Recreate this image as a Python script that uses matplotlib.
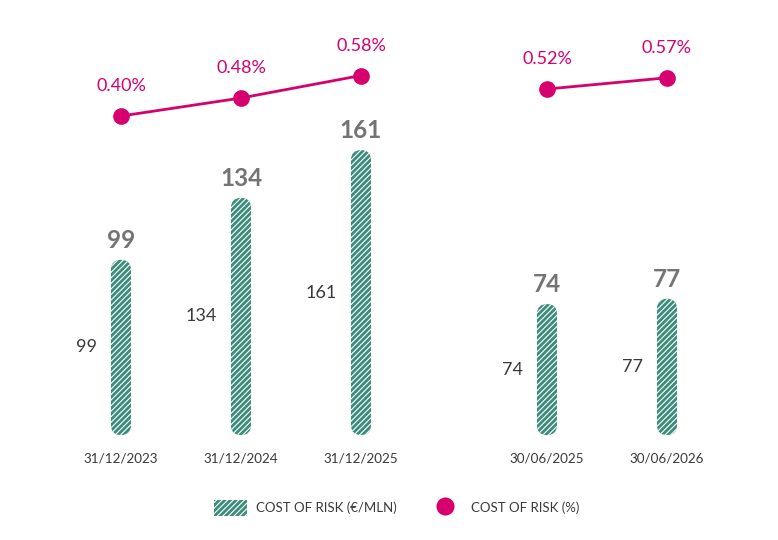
import matplotlib
matplotlib.use("Agg")
import matplotlib.pyplot as plt
from matplotlib.patches import FancyBboxPatch, Patch
from matplotlib.lines import Line2D

plt.rcParams['font.family'] = ['Lato', 'DejaVu Sans']
plt.rcParams['hatch.linewidth'] = 0.8

# data
dates_a = ["31/12/2023", "31/12/2024", "31/12/2025"]
dates_b = ["30/06/2025", "30/06/2026"]
cost_mln_a = [99, 134, 161]
cost_mln_b = [74, 77]
cost_pct_a = [0.40, 0.48, 0.58]
cost_pct_b = [0.52, 0.57]

TEAL = "#3c8c7b"
PINK = "#d6006e"
GREY = "#747474"
DARK = "#3a3a3a"

# positions: two groups with a wider gap between them
pos_a = [0, 1, 2]
pos_b = [3.55, 4.55]
positions = pos_a + pos_b
labels = dates_a + dates_b
values = cost_mln_a + cost_mln_b

fig = plt.figure(figsize=(7.78, 5.40), dpi=100)
ax = fig.add_axes([0, 0, 1, 1])
ax.set_xlim(-1.008, 5.475)
ax.set_ylim(-59.3, 245.8)
ax.axis("off")

bar_w = 0.167
px_x = 120.0   # pixels per x unit
px_y = 1.77    # pixels per y unit
r = 10 / px_x
aspect = (10 / px_y) / r

for x, v, lab in zip(positions, values, labels):
    p = FancyBboxPatch((x - bar_w / 2, 0), bar_w, v,
                       boxstyle=f"round,pad=0,rounding_size={r}",
                       mutation_aspect=aspect,
                       facecolor=TEAL, edgecolor="white", linewidth=0,
                       hatch="//////")
    ax.add_patch(p)
    ax.text(x, v + 11, str(v), ha="center", va="center",
            fontsize=17.5, fontweight="bold", color=GREY)
    ax.text(x - 0.2, v / 2, str(v), ha="right", va="center",
            fontsize=13, color=DARK)
    ax.text(x, -13, lab, ha="center", va="center", fontsize=9.7, color=DARK)

# percentage line on its own scale
ax2 = ax.twinx()
ax2.set_position([0, 0, 1, 1])
ax2.set_ylim(-1.484, 0.9156)
ax2.axis("off")

for xs, ys in [(pos_a, cost_pct_a), (pos_b, cost_pct_b)]:
    ax2.plot(xs, ys, color=PINK, linewidth=2, marker="o", markersize=11)
    for x, y in zip(xs, ys):
        ax2.text(x, y + 0.133, f"{y:.2f}%", ha="center", va="center",
                 fontsize=13, color=PINK)

handles = [
    Patch(facecolor=TEAL, edgecolor="white", linewidth=0, hatch="//////",
          label="COST OF RISK (€/MLN)"),
    Line2D([], [], color=PINK, marker="o", linestyle="none", markersize=12,
           label="COST OF RISK (%)"),
]
leg = fig.legend(handles=handles, loc="center", bbox_to_anchor=(0.51, 0.06),
                 ncol=2, frameon=False, fontsize=9.5, handlelength=2.5,
                 handleheight=1.5, columnspacing=2.4, handletextpad=0.7)
for t in leg.get_texts():
    t.set_color(DARK)

fig.savefig("out.png", dpi=100)
